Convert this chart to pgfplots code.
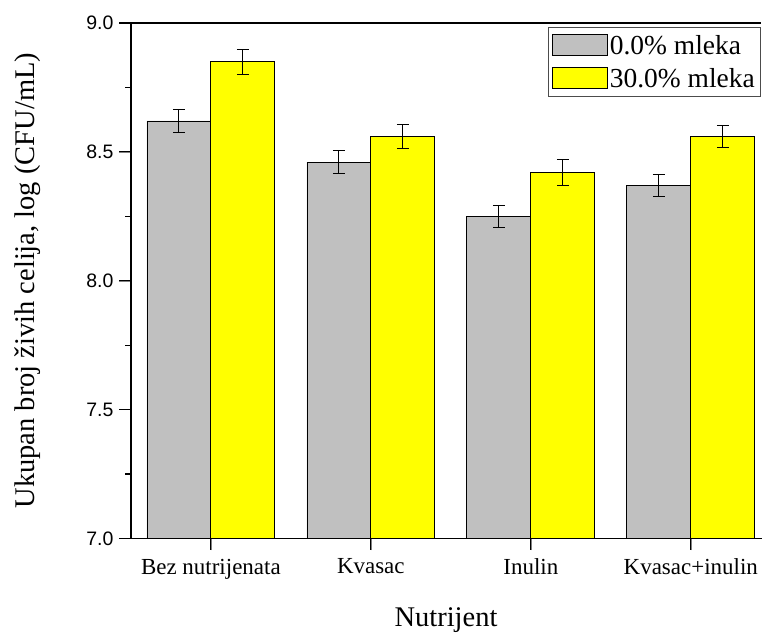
\documentclass[border=0pt]{standalone}
\usepackage{pgfplots}
\pgfplotsset{compat=1.18}
\usepackage{fontspec}
\setmainfont{Liberation Serif}
\newfontfamily\arial{Liberation Sans}
\definecolor{mygray}{RGB}{192,192,192}
\definecolor{myyellow}{RGB}{255,255,0}
\begin{document}
\begin{tikzpicture}
\begin{axis}[
  scale only axis=true,
  width=631pt, height=516pt,
  ybar=0pt, bar width=64pt,
  xmin=-0.5, xmax=3.44,
  ymin=7.0, ymax=9.0,
  xtick pos=left, ytick pos=left,
  xtick={0,1,2,3},
  xticklabels={Bez nutrijenata, Kvasac, Inulin, Kvasac+inulin},
  ytick={7.0,7.5,8.0,8.5,9.0},
  tick align=outside,
  major tick length=12pt,
  axis line style={draw=none},
  extra description/.code={
    \draw[black, line width=1.6pt, line cap=rect] (rel axis cs:0,1) -- (rel axis cs:0,0) -- (rel axis cs:1,0);
    \draw[black, line width=1.6pt] (rel axis cs:0,1) -- (rel axis cs:1,1);
    \foreach \yy in {7.0,7.5,8.0,8.5,9.0} {\draw[black, line width=1.2pt] (axis cs:-0.5,\yy) -- ++(-12pt,0pt);}
    \foreach \yy in {7.25,7.75,8.25,8.75} {\draw[black, line width=1.2pt] (axis cs:-0.5,\yy) -- ++(-6pt,0pt);}
    \foreach \xx in {0,1,2,3} {\draw[black, line width=1.2pt] (axis cs:\xx,7) -- ++(0pt,-12pt);}
    \path (rel axis cs:0,1) ++(-131pt,23pt);
    \path (rel axis cs:1,0) ++(0pt,-96pt);
  },
  yticklabel style={font=\arial\fontsize{19.5}{19.5}\selectfont, xshift=-2pt,
    /pgf/number format/fixed, /pgf/number format/fixed zerofill,
    /pgf/number format/precision=1, /pgf/number format/assume math mode=true},
  xticklabel style={font=\fontsize{23}{23}\selectfont, yshift=-5pt},
  xlabel={Nutrijent},
  ylabel={Ukupan broj živih celija, log (CFU/mL)},
  xlabel style={font=\fontsize{28.5}{28.5}\selectfont, yshift=-22pt},
  ylabel style={font=\fontsize{28.5}{28.5}\selectfont, yshift=39pt},
  legend style={at={(1,0.992)}, anchor=north east, draw=black!70, line width=0.8pt,
    font=\fontsize{27.5}{27.5}\selectfont, row sep=8pt, inner xsep=4pt, inner ysep=6pt,
    cells={anchor=west}},
  legend image code/.code={\draw[#1, draw=black, line width=0.8pt] (0pt,-10pt) rectangle (55pt,11pt);},
  error bars/error bar style={black, line width=0.8pt},
  error bars/error mark options={rotate=90, mark size=6pt, line width=0.8pt, black},
]
\addplot+[fill=mygray, draw=black, line width=0.8pt,
  error bars/.cd, y dir=both, y explicit]
  coordinates {(0,8.62) +- (0,0.045) (1,8.46) +- (0,0.045) (2,8.25) +- (0,0.042) (3,8.37) +- (0,0.042)};
\addlegendentry{0.0\% mleka}
\addplot+[fill=myyellow, draw=black, line width=0.8pt,
  error bars/.cd, y dir=both, y explicit]
  coordinates {(0,8.85) +- (0,0.048) (1,8.56) +- (0,0.046) (2,8.42) +- (0,0.05) (3,8.56) +- (0,0.043)};
\addlegendentry{30.0\% mleka}
\end{axis}
\end{tikzpicture}
\end{document}
